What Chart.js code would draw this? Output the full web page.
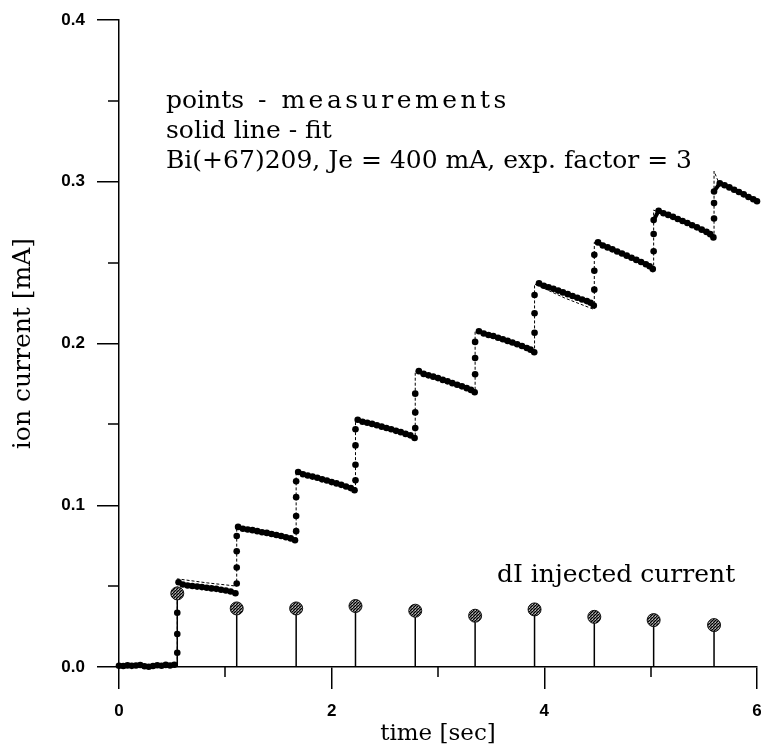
<!DOCTYPE html>
<html>
<head>
<meta charset="utf-8">
<script src="https://cdn.jsdelivr.net/npm/chart.js@4.4.0/dist/chart.umd.min.js"></script>
<style>
html,body{margin:0;padding:0;background:#fff;}
canvas{display:block;}
</style>
</head>
<body>
<canvas id="grafico" width="761" height="750"></canvas>
<script>
// mediciones (puntos)
const tiempoMedido = [
  0.00,0.04,0.08,0.12,0.16,0.20,0.24,0.28,0.32,0.36,0.40,0.44,0.48,0.52,
  0.548,0.548,0.548,0.548,
  0.560,0.600,0.645,0.690,0.735,0.780,0.825,0.870,0.915,0.960,1.005,1.050,1.095,
  1.107,1.107,1.107,1.107,
  1.120,1.165,1.210,1.255,1.300,1.345,1.390,1.435,1.480,1.525,1.570,1.615,1.655,
  1.666,1.666,1.666,1.666,
  1.685,1.730,1.775,1.820,1.865,1.910,1.955,2.000,2.045,2.090,2.135,2.180,2.215,
  2.224,2.224,2.224,2.224,
  2.245,2.290,2.335,2.380,2.425,2.470,2.515,2.560,2.605,2.650,2.695,2.740,2.780,
  2.786,2.786,2.786,
  2.820,2.865,2.910,2.955,3.000,3.045,3.090,3.135,3.180,3.225,3.270,3.310,3.345,
  3.349,3.349,3.349,
  3.385,3.430,3.475,3.520,3.565,3.610,3.655,3.700,3.745,3.790,3.835,3.870,3.905,
  3.908,3.908,3.908,
  3.950,3.995,4.040,4.085,4.130,4.175,4.220,4.265,4.310,4.355,4.400,4.435,4.465,
  4.470,4.470,4.470,
  4.505,4.550,4.595,4.640,4.685,4.730,4.775,4.820,4.865,4.910,4.955,4.990,5.020,
  5.028,5.028,5.028,
  5.075,5.120,5.165,5.210,5.255,5.300,5.345,5.390,5.435,5.480,5.525,5.560,5.590,
  5.596,5.596,5.596,
  5.650,5.695,5.740,5.785,5.830,5.875,5.920,5.965,6.000,6.035
];
const corrienteMedida = [
  0.0008,0.0006,0.0010,0.0007,0.0009,0.0012,0.0005,0.0002,0.0006,0.0011,0.0008,0.0013,0.0009,0.0014,
  0.0088,0.0204,0.0335,0.0455,
  0.0524,0.0510,0.0504,0.0501,0.0497,0.0494,0.0490,0.0486,0.0483,0.0478,0.0473,0.0467,0.0456,
  0.0516,0.0615,0.0716,0.0810,
  0.0866,0.0855,0.0850,0.0846,0.0840,0.0833,0.0829,0.0822,0.0816,0.0810,0.0802,0.0795,0.0784,
  0.0840,0.0934,0.1050,0.1148,
  0.1206,0.1192,0.1184,0.1177,0.1170,0.1160,0.1153,0.1143,0.1135,0.1126,0.1116,0.1106,0.1093,
  0.1154,0.1250,0.1370,0.1470,
  0.1529,0.1516,0.1510,0.1503,0.1495,0.1486,0.1478,0.1470,0.1460,0.1452,0.1441,0.1432,0.1416,
  0.1477,0.1574,0.1690,
  0.1829,0.1812,0.1803,0.1795,0.1786,0.1775,0.1766,0.1755,0.1745,0.1735,0.1724,0.1713,0.1699,
  0.1810,0.1910,0.2010,
  0.2076,0.2062,0.2053,0.2046,0.2036,0.2026,0.2016,0.2006,0.1995,0.1985,0.1972,0.1962,0.1946,
  0.2066,0.2187,0.2300,
  0.2372,0.2357,0.2348,0.2338,0.2327,0.2316,0.2305,0.2294,0.2283,0.2272,0.2262,0.2252,0.2235,
  0.2333,0.2450,0.2548,
  0.2625,0.2606,0.2594,0.2582,0.2569,0.2556,0.2543,0.2530,0.2517,0.2504,0.2490,0.2478,0.2460,
  0.2570,0.2677,0.2763,
  0.2821,0.2805,0.2795,0.2783,0.2770,0.2757,0.2745,0.2731,0.2718,0.2704,0.2690,0.2676,0.2656,
  0.2773,0.2868,0.2940,
  0.2990,0.2978,0.2965,0.2951,0.2937,0.2922,0.2906,0.2892,0.2879,0.2866
];

// ajuste (linea)
const tiempoAjuste = [
  0, 0.548,
  0.548, 0.83, 1.107,
  1.107, 1.386, 1.666,
  1.666, 1.945, 2.224,
  2.224, 2.505, 2.786,
  2.786, 3.068, 3.349,
  3.349, 3.628, 3.908,
  3.908, 4.189, 4.470,
  4.470, 4.749, 5.028,
  5.028, 5.312, 5.596,
  5.596, 5.64, 5.80, 6.0
];
const corrienteAjuste = [
  0.0005, 0.0005,
  0.0545, 0.0520, 0.0500,
  0.0866, 0.0826, 0.0786,
  0.1206, 0.1150, 0.1096,
  0.1530, 0.1472, 0.1418,
  0.1830, 0.1763, 0.1702,
  0.2078, 0.2008, 0.1950,
  0.2368, 0.2282, 0.2210,
  0.2626, 0.2541, 0.2462,
  0.2825, 0.2740, 0.2658,
  0.3065, 0.2995, 0.2947, 0.2878
];

// corriente inyectada dI
const tiempoInyeccion = [0.548, 1.107, 1.666, 2.224, 2.786, 3.349, 3.908, 4.470, 5.028, 5.596];
const corrienteInyectada = [0.0455, 0.0362, 0.0362, 0.0377, 0.0348, 0.0317, 0.0356, 0.0310, 0.0290, 0.0259];

const marcasMenoresX = [1, 3, 5];
const marcasMenoresY = [0.05, 0.15, 0.25, 0.35];

const textosLeyenda = ['points', '- measurements', 'solid line - fit', 'Bi(+67)209, Je = 400 mA, exp. factor = 3'];
const textoInyectada = 'dI injected current';
const tituloX = 'time [sec]';
const tituloY = 'ion current [mA]';

const serif = '"DejaVu Serif", serif';

// puntos de cada serie
const puntosMedidos = tiempoMedido.map((t, i) => ({x: t, y: corrienteMedida[i]}));
const puntosAjuste = tiempoAjuste.map((t, i) => ({x: t, y: corrienteAjuste[i]}));
const puntosInyeccion = tiempoInyeccion.map((t, i) => ({x: t, y: corrienteInyectada[i]}));
let tallos = [];
tiempoInyeccion.forEach((t, i) => {
  tallos.push({x: t, y: 0}, {x: t, y: corrienteInyectada[i]}, {x: t, y: null});
});

// relleno punteado para los circulos
function punteado() {
  const c = document.createElement('canvas');
  c.width = 3; c.height = 3;
  const g = c.getContext('2d');
  g.fillStyle = '#6a6a6a';
  g.fillRect(0, 0, 3, 3);
  g.fillStyle = '#000';
  g.fillRect(0, 0, 1, 1);
  g.fillRect(2, 1, 1, 1);
  g.fillRect(1, 2, 1, 1);
  g.fillStyle = '#bdbdbd';
  g.fillRect(1, 1, 1, 1);
  return g.createPattern(c, 'repeat');
}

// los saltos se ven solo como puntos, las mesetas como banda gruesa
function colorTramo(c) {
  const dx = c.p1.parsed.x - c.p0.parsed.x;
  const dy = Math.abs(c.p1.parsed.y - c.p0.parsed.y);
  if (dx < 0.005 || dy / dx > 0.15) return 'rgba(0,0,0,0)';
  return '#000';
}

const extras = {
  id: 'extras',
  afterDraw(chart) {
    const ctx = chart.ctx;
    const x = chart.scales.x, y = chart.scales.y;
    ctx.save();
    ctx.strokeStyle = '#000';
    ctx.lineWidth = 1.5;
    ctx.beginPath();
    marcasMenoresY.forEach(v => {
      const py = Math.round(y.getPixelForValue(v));
      ctx.moveTo(x.left - 11, py);
      ctx.lineTo(x.left, py);
    });
    marcasMenoresX.forEach(v => {
      const px = Math.round(x.getPixelForValue(v));
      ctx.moveTo(px, y.bottom);
      ctx.lineTo(px, y.bottom + 10);
    });
    ctx.stroke();

    ctx.fillStyle = '#000';
    ctx.font = '25px ' + serif;
    ctx.textBaseline = 'alphabetic';
    ctx.textAlign = 'left';
    ctx.fillText(textosLeyenda[0], 166, 108);
    ctx.fillText(textosLeyenda[2], 166, 138);
    ctx.fillText(textosLeyenda[3], 166, 168);
    ctx.fillText(textoInyectada, 497, 582);
    ctx.letterSpacing = '3.5px';
    ctx.fillText(textosLeyenda[1], 258, 108);
    ctx.restore();
  }
};

const ctx = document.getElementById('grafico');
const grafico = new Chart(ctx, {
  type: 'scatter',
  data: {
    datasets: [
      {
        label: 'dI',
        data: puntosInyeccion,
        pointRadius: 6.5,
        backgroundColor: punteado(),
        borderColor: '#111',
        borderWidth: 1,
        showLine: false
      },
      {
        label: 'measurements',
        data: puntosMedidos,
        pointRadius: 3.3,
        backgroundColor: '#000',
        pointBorderWidth: 0,
        showLine: true,
        borderWidth: 4,
        borderColor: '#000',
        segment: {borderColor: colorTramo},
        clip: false
      },
      {
        label: 'stems',
        data: tallos,
        showLine: true,
        spanGaps: false,
        borderColor: '#000',
        borderWidth: 1.5,
        pointRadius: 0
      },
      {
        label: 'fit',
        data: puntosAjuste,
        showLine: true,
        borderColor: '#000',
        borderWidth: 1,
        borderDash: [3, 2],
        pointRadius: 0,
        tension: 0
      }
    ]
  },
  options: {
    responsive: false,
    animation: false,
    layout: {autoPadding: false, padding: {top: 20, right: 4, left: 0, bottom: 0}},
    plugins: {legend: {display: false}, tooltip: {enabled: false}},
    scales: {
      x: {
        type: 'linear',
        min: 0, max: 6,
        afterFit: s => { s.height = 83; s.paddingLeft = 0; s.paddingRight = 0; },
        border: {display: true, color: '#000', width: 1.5},
        grid: {drawOnChartArea: false, drawTicks: true, tickLength: 22, color: '#000', lineWidth: 1.5},
        ticks: {stepSize: 2, padding: 12, color: '#000', font: {family: '"Liberation Sans", Arial', size: 17, weight: 'bold'}, maxRotation: 0},
        title: {display: true, text: tituloX, color: '#000', font: {family: serif, size: 23}, padding: {top: 0, bottom: 2}}
      },
      y: {
        min: 0, max: 0.4,
        afterFit: s => { s.width = 119; s.paddingTop = 0; s.paddingBottom = 0; },
        border: {display: true, color: '#000', width: 1.5},
        grid: {drawOnChartArea: false, drawTicks: true, tickLength: 22, color: '#000', lineWidth: 1.5},
        ticks: {stepSize: 0.1, padding: 12, color: '#000', font: {family: '"Liberation Sans", Arial', size: 17, weight: 'bold'}, callback: v => v.toFixed(1)},
        title: {display: true, text: tituloY, color: '#000', font: {family: serif, size: 25}, padding: {top: 8, bottom: 0}}
      }
    }
  },
  plugins: [extras]
});
</script>
</body>
</html>
